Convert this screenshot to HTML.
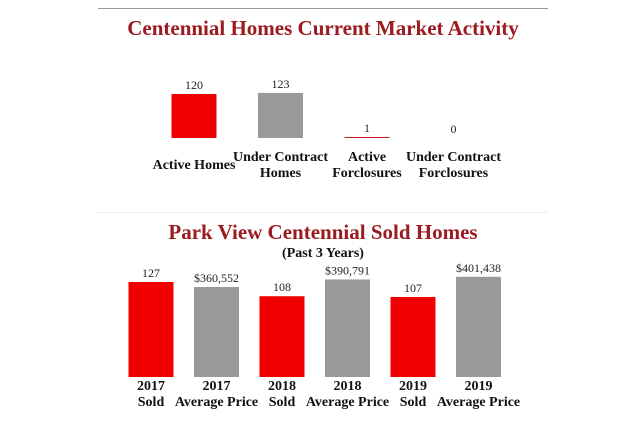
<!DOCTYPE html>
<html><head><meta charset="utf-8"><style>
html,body{margin:0;padding:0;background:#fff;width:625px;height:438px;overflow:hidden}
svg{display:block}
text{font-family:"Liberation Serif",serif}
.t{font-size:21px;font-weight:bold;fill:#9b1b20}
.v{font-size:12px;fill:#222}
.c{font-size:14px;font-weight:bold;fill:#111}
</style></head><body>
<svg id="s" width="625" height="438">
<line x1="98" y1="8.5" x2="548" y2="8.5" stroke="#999" stroke-width="1"/>
<text class="t" x="323" y="35" text-anchor="middle">Centennial Homes Current Market Activity</text>
<line x1="98" y1="212.5" x2="548" y2="212.5" stroke="#eee" stroke-width="1"/>
<text class="t" x="323" y="239" text-anchor="middle">Park View Centennial Sold Homes</text>
<text class="c" x="323" y="257" text-anchor="middle">(Past 3 Years)</text>
<g id="g1"></g><g id="g2"></g>
</svg>
<script>
const topCats=[["Active Homes"],["Under Contract","Homes"],["Active","Forclosures"],["Under Contract","Forclosures"]];
const topVals=[120,123,1,0];
const topColors=["#f00000","#999999","#d01a1f","#999999"];
const soldCats=[["2017","Sold"],["2017","Average Price"],["2018","Sold"],["2018","Average Price"],["2019","Sold"],["2019","Average Price"]];
const soldVals=[127,360552,108,390791,107,401438];
const soldLabels=["127","$360,552","108","$390,791","107","$401,438"];
const NS="http://www.w3.org/2000/svg";
function mk(tag,attrs,parent){const e=document.createElementNS(NS,tag);for(const k in attrs)e.setAttribute(k,attrs[k]);parent.appendChild(e);return e;}
const g1=document.getElementById('g1');
const yTop=v=>138-v*(44/120);
topVals.forEach((v,i)=>{
  const cx=194+i*86.5;
  const y=yTop(v);
  const r=mk('rect',{x:cx-22.5,y:v>0?Math.min(y,137):138,width:45,height:v>0?Math.max(138-y,1):0,fill:topColors[i]},g1);
  
  
  const t=mk('text',{x:cx,y:(v>0?Math.min(y,137):138)-5,class:'v','text-anchor':'middle'},g1);
  t.textContent=String(v);
  
  
  const lines=topCats[i];
  lines.forEach((l,j)=>{
    const yy=lines.length===1?169:161+j*16;
    const c=mk('text',{x:cx,y:yy,class:'c','text-anchor':'middle'},g1);
    c.textContent=l;
    
    
  });
});
const g2=document.getElementById('g2');
const ySold=v=>377-v*(95/127);
const yPrice=v=>377-v*(90/360552);
soldVals.forEach((v,i)=>{
  const cx=151+i*65.5;
  const y=i%2===0?ySold(v):yPrice(v);
  const r=mk('rect',{x:cx-22.5,y:y,width:45,height:377-y,fill:i%2===0?'#f00000':'#999999'},g2);
  
  
  const t=mk('text',{x:cx,y:y-5,class:'v','text-anchor':'middle'},g2);
  t.textContent=soldLabels[i];
  
  
  soldCats[i].forEach((l,j)=>{
    const c=mk('text',{x:cx,y:390+j*16,class:'c','text-anchor':'middle'},g2);
    c.textContent=l;
    
    
  });
});
</script>
</body></html>
